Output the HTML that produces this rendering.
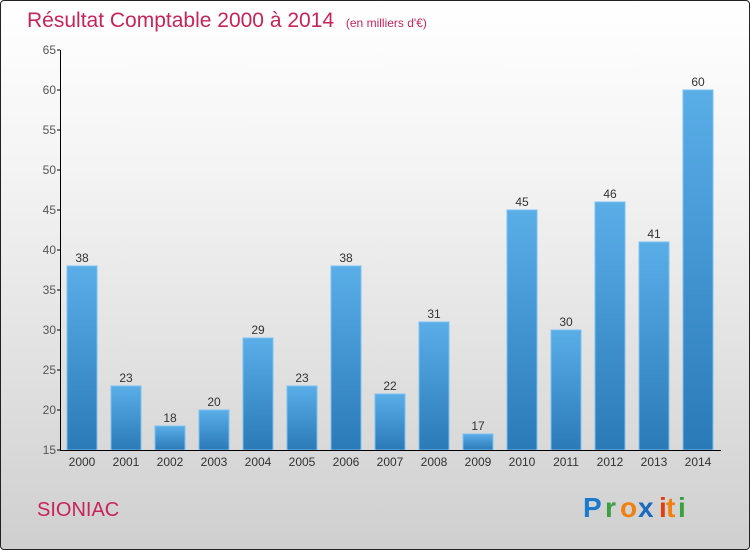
<!DOCTYPE html>
<html><head><meta charset="utf-8"><style>
body{margin:0}
#c{width:748px;height:548px;border:1px solid #222;border-radius:4px;background:linear-gradient(#ffffff,#f4f4f4 30%,#cfcfcf);position:relative;overflow:hidden;font-family:"Liberation Sans",sans-serif}
</style></head><body>
<div id="c">
<svg width="748" height="548" id="s">
<defs><linearGradient id="g" x1="0" y1="0" x2="0" y2="1"><stop offset="0" stop-color="#5aaee8"/><stop offset="1" stop-color="#2a7ab8"/></linearGradient></defs>
<text x="26" y="26" font-size="21" fill="#c8245a">Résultat Comptable 2000 à 2014 <tspan font-size="12" dx="6">(en milliers d'€)</tspan></text>
<text x="36" y="515" font-size="20" fill="#c8245a">SIONIAC</text>
<g font-size="28" font-weight="bold">
<text x="582" y="516" fill="#1a7ad0">P</text><text x="604" y="516" fill="#3aa040">r</text><text x="619" y="516" fill="#f08010">o</text><text x="637" y="516" fill="#1a6ac0">x</text><text x="658" y="516" fill="#e04010">i</text><text x="665" y="516" fill="#f08010">t</text><text x="677" y="516" fill="#3aa040">i</text></g>
<g id="plot"></g>
</svg></div>
<script>
const years=["2000","2001","2002","2003","2004","2005","2006","2007","2008","2009","2010","2011","2012","2013","2014"];
const values=[38,23,18,20,29,23,38,22,31,17,45,30,46,41,60];
const ticks=[15,20,25,30,35,40,45,50,55,60,65];
const ns="http://www.w3.org/2000/svg",p=document.getElementById('plot');
const y=v=>449-(v-15)*8, x=i=>59+i*44;
function mk(t,a,txt){const e=document.createElementNS(ns,t);for(const k in a)e.setAttribute(k,a[k]);if(txt!=null)e.textContent=txt;p.appendChild(e);return e;}
ticks.forEach(t=>{const l=mk('line',{x1:56,x2:59,y1:y(t),y2:y(t),stroke:'#000'});

const tx=mk('text',{x:55,y:y(t)+4,'text-anchor':'end','font-size':12,fill:'#555'},t);
});
values.forEach((v,i)=>{const r=mk('rect',{x:x(i)+7,y:y(v),width:30,height:y(15)-y(v),fill:'url(#g)',stroke:'#7cc0f0','stroke-width':1});

const t=mk('text',{x:x(i)+22,y:y(v)-4,'text-anchor':'middle','font-size':12,fill:'#333'},v);

const yl=mk('text',{x:x(i)+22,y:y(15)+16,'text-anchor':'middle','font-size':12,fill:'#333'},years[i]);
});
const ya=mk('line',{x1:59.5,x2:59.5,y1:y(65),y2:y(15),stroke:'#000'});

const xa=mk('line',{x1:59,x2:720,y1:y(15)+0.5,y2:y(15)+0.5,stroke:'#000'});

</script></body></html>
